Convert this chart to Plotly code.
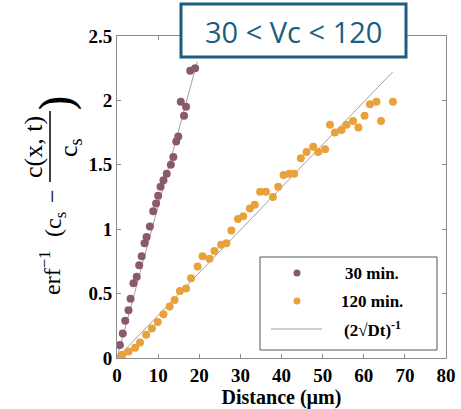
import plotly.graph_objects as go

# Measured profiles: distance (µm) vs inverse-erf of normalised concentration
x_30 = [0.7, 1.4, 2.0, 2.8, 3.3, 4.0, 4.8, 5.4, 6.0, 6.7, 7.2, 8.0, 8.8, 9.5,
        10.0, 10.6, 11.3, 12.1, 13.1, 13.7, 14.4, 14.9, 15.5, 16.3, 16.8, 17.8, 19.0]
y_30 = [0.10, 0.19, 0.29, 0.37, 0.46, 0.58, 0.63, 0.72, 0.79, 0.89, 0.94, 1.02, 1.14, 1.20,
        1.26, 1.33, 1.38, 1.43, 1.50, 1.56, 1.68, 1.72, 1.99, 1.88, 1.95, 2.23, 2.25]

x_120 = [0.1, 1.3, 2.8, 4.4, 5.6, 7.1, 8.5, 9.9, 11.3, 12.8, 14.0, 15.3, 16.8, 18.0,
         19.6, 20.8, 22.5, 23.7, 25.3, 26.6, 27.8, 29.4, 30.7, 32.3, 33.5, 34.8, 36.2,
         37.9, 39.2, 40.5, 41.9, 43.1, 44.7, 46.1, 47.7, 48.9, 50.6, 51.8, 53.0, 54.6,
         55.8, 57.4, 58.7, 60.2, 61.5, 63.1, 64.2, 67.1]
y_120 = [0.0, 0.025, 0.05, 0.08, 0.12, 0.18, 0.23, 0.28, 0.34, 0.40, 0.45, 0.52, 0.54, 0.62,
         0.71, 0.79, 0.77, 0.83, 0.88, 0.89, 0.99, 1.08, 1.10, 1.16, 1.19, 1.29, 1.29,
         1.25, 1.33, 1.42, 1.43, 1.43, 1.55, 1.60, 1.64, 1.60, 1.62, 1.81, 1.75, 1.77,
         1.81, 1.84, 1.79, 1.88, 1.97, 1.99, 1.84, 1.99]

# Linear fits (2√Dt)^-1
fit_30_x = [0.0, 19.5]
fit_30_y = [0.0, 2.30]
fit_120_x = [0.0, 67.0]
fit_120_y = [0.0, 2.22]

x_ticks = [0, 10, 20, 30, 40, 50, 60, 70, 80]
y_ticks = [0, 0.5, 1, 1.5, 2, 2.5]
y_tick_text = ["0", "0.5", "1", "1.5", "2", "2.5"]

PURPLE = "#8B5A67"
ORANGE = "#E9A23B"
FIT = "#A0A0A0"
TEAL = "#1B5E80"
SERIF = "Liberation Serif"

W, H = 461, 409
L, R, T, B = 117, 446, 36, 358


def fx(px):
    return (px - L) / (R - L)


def fy(py):
    return (B - py) / (B - T)


fig = go.Figure()
fig.add_trace(go.Scatter(x=fit_30_x, y=fit_30_y, mode="lines",
                         line=dict(color=FIT, width=1), showlegend=False))
fig.add_trace(go.Scatter(x=fit_120_x, y=fit_120_y, mode="lines",
                         line=dict(color=FIT, width=1), showlegend=False))
fig.add_trace(go.Scatter(x=x_30, y=y_30, mode="markers", name="30 min.",
                         marker=dict(color=PURPLE, size=8), showlegend=False))
fig.add_trace(go.Scatter(x=x_120, y=y_120, mode="markers", name="120 min.",
                         marker=dict(color=ORANGE, size=8), showlegend=False))

axis_common = dict(
    showline=True, linecolor="#8a8a8a", linewidth=1, mirror="ticks",
    ticks="inside", ticklen=4, tickcolor="#8a8a8a", showgrid=False, zeroline=False,
    automargin=False,
    tickfont=dict(family=SERIF, size=19, color="black", weight="bold"),
)

fig.update_layout(
    width=W, height=H,
    margin=dict(l=L, r=W - R, t=T, b=H - B),
    paper_bgcolor="white", plot_bgcolor="white",
    xaxis=dict(range=[0, 80], tickvals=x_ticks, **axis_common,
               title=dict(text="Distance (µm)", standoff=11,
                          font=dict(family=SERIF, size=20, color="black", weight="bold"))),
    yaxis=dict(range=[0, 2.5], tickvals=y_ticks, ticktext=y_tick_text, **axis_common),
)

shapes = []
annotations = []

# Legend box
shapes.append(dict(type="rect", xref="paper", yref="paper",
                   x0=fx(260), x1=fx(437), y0=fy(350), y1=fy(257),
                   line=dict(color="#555555", width=1), fillcolor="white", layer="above"))
for py, col in [(273, PURPLE), (301, ORANGE)]:
    shapes.append(dict(type="circle", xref="paper", yref="paper",
                       xsizemode="pixel", ysizemode="pixel",
                       xanchor=fx(297), yanchor=fy(py), x0=-3.5, x1=3.5, y0=-3.5, y1=3.5,
                       fillcolor=col, line=dict(width=0), layer="above"))
shapes.append(dict(type="line", xref="paper", yref="paper",
                   x0=fx(271), x1=fx(322), y0=fy(329), y1=fy(329),
                   line=dict(color=FIT, width=1), layer="above"))
for py, txt in [(273, "30 min."), (301, "120 min."), (329, "(2√Dt)<sup>-1</sup>")]:
    annotations.append(dict(xref="paper", yref="paper", x=fx(372), y=fy(py),
                            text=txt, showarrow=False, xanchor="center", yanchor="middle",
                            font=dict(family=SERIF, size=17, color="black", weight="bold")))

# Header box
shapes.append(dict(type="rect", xref="paper", yref="paper",
                   x0=fx(181), x1=fx(406), y0=fy(57), y1=fy(4),
                   line=dict(color=TEAL, width=3), fillcolor="white", layer="above"))
annotations.append(dict(xref="paper", yref="paper", x=fx(293.5), y=fy(31),
                        text="30 < Vc < 120", showarrow=False,
                        xanchor="center", yanchor="middle",
                        font=dict(family="Open Sans", size=29, color=TEAL)))

# Y-axis title: erf^-1(c_s - c(x,t)/c_s), rotated
title_font = dict(family=SERIF, size=24, color="black")
annotations.append(dict(xref="paper", yref="paper", x=fx(50), y=fy(273),
                        text="erf<sup>−1</sup>", textangle=-90, showarrow=False,
                        xanchor="center", yanchor="middle", font=title_font))
annotations.append(dict(xref="paper", yref="paper", x=fx(55), y=fy(225),
                        text="(c<sub>s</sub>", textangle=-90, showarrow=False,
                        xanchor="center", yanchor="middle", font=title_font))
annotations.append(dict(xref="paper", yref="paper", x=fx(52), y=fy(196),
                        text="−", textangle=-90, showarrow=False,
                        xanchor="center", yanchor="middle", font=title_font))
annotations.append(dict(xref="paper", yref="paper", x=fx(33), y=fy(147),
                        text="c(x, t)", textangle=-90, showarrow=False,
                        xanchor="center", yanchor="middle", font=dict(family=SERIF, size=26, color="black")))
annotations.append(dict(xref="paper", yref="paper", x=fx(70), y=fy(148),
                        text="c<sub>s</sub>", textangle=-90, showarrow=False,
                        xanchor="center", yanchor="middle", font=dict(family=SERIF, size=26, color="black")))
annotations.append(dict(xref="paper", yref="paper", x=fx(58), y=fy(103),
                        text=")", textangle=-90, showarrow=False,
                        xanchor="center", yanchor="middle",
                        font=dict(family="DejaVu Serif", size=46, color="black", weight="normal")))
shapes.append(dict(type="line", xref="paper", yref="paper",
                   x0=fx(50), x1=fx(50), y0=fy(182), y1=fy(111),
                   line=dict(color="black", width=1.5)))

fig.update_layout(shapes=shapes, annotations=annotations)
fig.write_html("out.html")
